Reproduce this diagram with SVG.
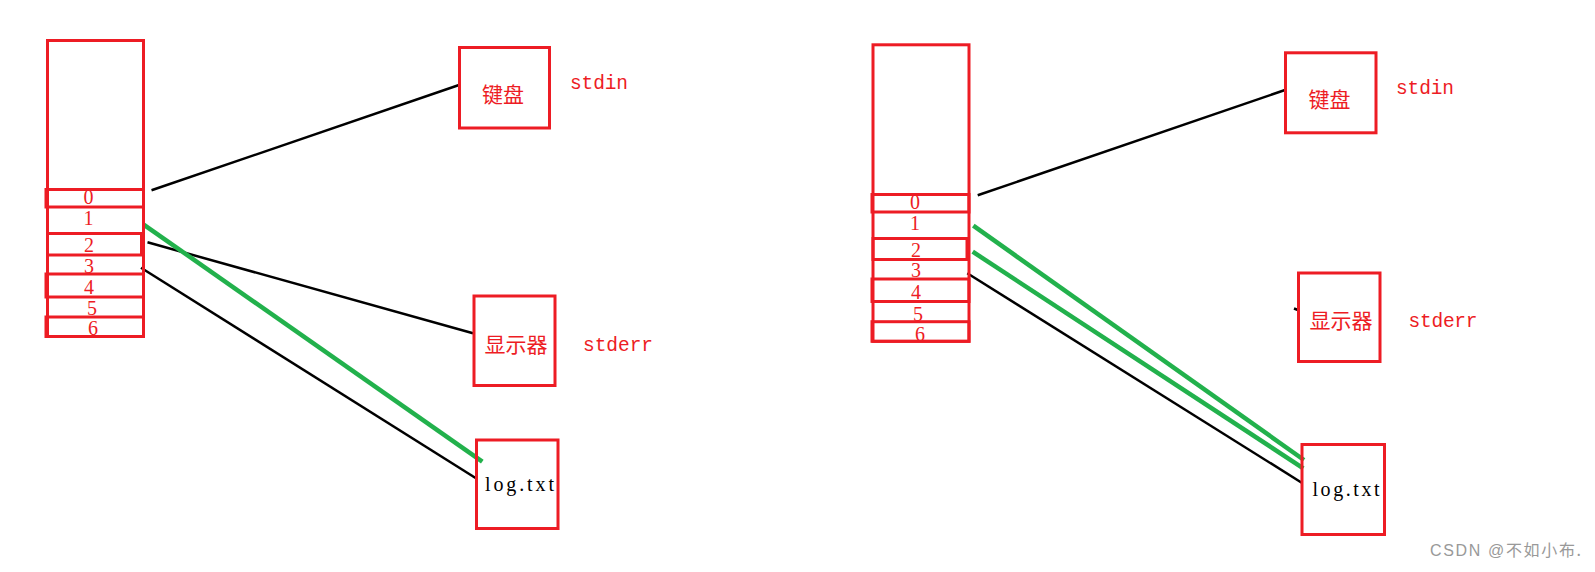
<svg xmlns="http://www.w3.org/2000/svg" width="1595" height="572" viewBox="0 0 1595 572">
<style>
.box{fill:none;stroke:#ED1C24;stroke-width:3}
.dig{font-family:"Liberation Serif",serif;font-size:20px;fill:#ED1C24;text-anchor:middle}
.cjk{font-family:"Noto Sans CJK SC",sans-serif;font-size:21px;fill:#ED1C24;text-anchor:middle}
.mono{font-family:"Liberation Mono",monospace;font-size:19.5px;fill:#ED1C24}
.file{font-family:"Liberation Serif",serif;font-size:20px;fill:#000}
.blk{stroke:#000;stroke-width:2.5;fill:none}
.grn{stroke:#22B14C;stroke-width:4.5;fill:none}
.wm{font-family:"Liberation Sans",sans-serif;font-size:16px;fill:#999}
.wmc{font-family:"Noto Sans CJK SC",sans-serif;font-size:16px;fill:#999}
</style>
<rect width="1595" height="572" fill="#fff"/>

<g id="connectors">
  <line class="blk" x1="151.5" y1="190.3" x2="459" y2="85"/>
  <line class="blk" x1="147.5" y1="242.3" x2="473" y2="333.3"/>
  <line class="blk" x1="141" y1="267.7" x2="476" y2="478.3"/>
  <line class="grn" x1="143.3" y1="224.3" x2="482.3" y2="461.7"/>

  <line class="blk" x1="977.7" y1="195.3" x2="1285" y2="90"/>
  <line class="blk" x1="967.3" y1="273.3" x2="1301.7" y2="482.7"/>
  <line class="grn" x1="973.3" y1="225.7" x2="1304" y2="460"/>
  <line class="grn" x1="972.7" y1="251.7" x2="1303.3" y2="468.3"/>
  <line class="blk" x1="1294" y1="308.5" x2="1298" y2="310"/>
</g>

<g id="fdtable-left">
  <rect class="box" x="47.5" y="40.5" width="96" height="296"/>
  <rect class="box" x="46" y="189.5" width="97.5" height="17.5"/>
  <rect class="box" x="47.5" y="233.5" width="94" height="21.5"/>
  <rect class="box" x="46" y="274" width="97.5" height="23"/>
  <rect class="box" x="46" y="317" width="97.5" height="19.5"/>
  <text class="dig" x="88.5" y="203.5">0</text>
  <text class="dig" x="88.5" y="225">1</text>
  <text class="dig" x="89" y="252">2</text>
  <text class="dig" x="89" y="272.5">3</text>
  <text class="dig" x="89" y="293.5">4</text>
  <text class="dig" x="92" y="315">5</text>
  <text class="dig" x="93" y="335">6</text>
</g>

<g id="keyboard-left">
  <rect class="box" x="459.5" y="47.5" width="90" height="80.5"/>
  <text class="cjk" x="503" y="102">键盘</text>
  <text class="mono" x="570" y="88.5" textLength="58">stdin</text>
</g>
<g id="display-left">
  <rect class="box" x="474" y="296" width="81" height="89.5"/>
  <text class="cjk" x="516" y="352">显示器</text>
  <text class="mono" x="583" y="351" textLength="70">stderr</text>
</g>
<g id="log-left">
  <rect class="box" x="476.5" y="440" width="81.5" height="88.5"/>
  <text class="file" x="485" y="491" textLength="69">log.txt</text>
</g>

<g id="fdtable-right">
  <rect class="box" x="873" y="44.8" width="96" height="296.5"/>
  <rect class="box" x="872" y="194.5" width="97" height="17.5"/>
  <rect class="box" x="873" y="238.5" width="94" height="21"/>
  <rect class="box" x="872" y="279" width="97" height="22.5"/>
  <rect class="box" x="872" y="321.7" width="97" height="19.6"/>
  <text class="dig" x="915" y="208.5">0</text>
  <text class="dig" x="915" y="230">1</text>
  <text class="dig" x="916" y="257">2</text>
  <text class="dig" x="916" y="277">3</text>
  <text class="dig" x="916" y="298.5">4</text>
  <text class="dig" x="918" y="320.5">5</text>
  <text class="dig" x="920" y="340.5">6</text>
</g>

<g id="keyboard-right">
  <rect class="box" x="1285.5" y="52.8" width="90.5" height="80"/>
  <text class="cjk" x="1329.5" y="107">键盘</text>
  <text class="mono" x="1396" y="93.5" textLength="58">stdin</text>
</g>
<g id="display-right">
  <rect class="box" x="1298.5" y="273" width="81.5" height="88.5"/>
  <text class="cjk" x="1341" y="328">显示器</text>
  <text class="mono" x="1408.5" y="327" textLength="69">stderr</text>
</g>
<g id="log-right">
  <rect class="box" x="1302" y="444.5" width="82.5" height="90"/>
  <text class="file" x="1312.5" y="495.5" textLength="67">log.txt</text>
</g>

<text class="wm" x="1430" y="556" textLength="151">CSDN @<tspan class="wmc">不如小布.</tspan></text>
</svg>
